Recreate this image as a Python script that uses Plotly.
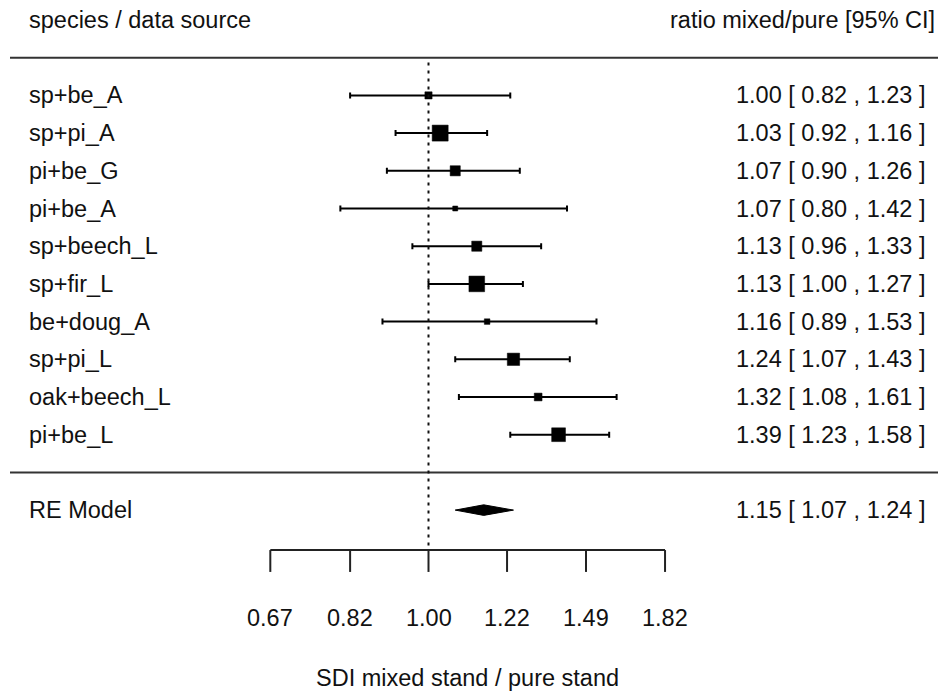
import numpy as np
import plotly.graph_objects as go

# ---- data ----
labels = ["sp+be_A", "sp+pi_A", "pi+be_G", "pi+be_A", "sp+beech_L",
          "sp+fir_L", "be+doug_A", "sp+pi_L", "oak+beech_L", "pi+be_L"]
estimate = [1.00, 1.03, 1.07, 1.07, 1.13, 1.13, 1.16, 1.24, 1.32, 1.39]
ci_lower = [0.82, 0.92, 0.90, 0.80, 0.96, 1.00, 0.89, 1.07, 1.08, 1.23]
ci_upper = [1.23, 1.16, 1.26, 1.42, 1.33, 1.27, 1.53, 1.43, 1.61, 1.58]
weights = [8.5, 14.5, 10.5, 7.0, 10.5, 14.3, 7.4, 12.0, 8.9, 13.0]

re_label = "RE Model"
re_est, re_lo, re_hi = 1.15, 1.07, 1.24

tick_vals = [0.67, 0.82, 1.00, 1.22, 1.49, 1.82]
tick_text = ["0.67", "0.82", "1.00", "1.22", "1.49", "1.82"]

header_left = "species / data source"
header_right = "ratio mixed/pure [95% CI]"
x_title = "SDI mixed stand / pure stand"

# ---- layout constants ----
W, H = 938, 691
PX_PER_UNIT_X = 395.0
X0_PX = 428.5
PX_PER_ROW = 37.7
Y0_PX = 472.4
FONT = "Liberation Sans, Arial, sans-serif"
FS = 23.5
TXT = "#111111"

xr = [-X0_PX / PX_PER_UNIT_X, (W - X0_PX) / PX_PER_UNIT_X]
yr = [(Y0_PX - H) / PX_PER_ROW, Y0_PX / PX_PER_ROW]

k = len(labels)
rows = [k - i for i in range(k)]
lx = np.log(estimate)
llo = np.log(ci_lower)
lhi = np.log(ci_upper)

w = np.array(weights)
sizes = 5 + (w - w.min()) / (w.max() - w.min()) * 11

fig = go.Figure()

fig.add_trace(go.Scatter(
    x=lx, y=rows, mode="markers",
    marker=dict(symbol="square", size=sizes, color="#000000", opacity=1,
                line=dict(width=0.5, color="#000000")),
    error_x=dict(type="data", symmetric=False, array=lhi - lx, arrayminus=lx - llo,
                 color="#000000", thickness=2, width=3),
    showlegend=False, hoverinfo="skip"))

# RE diamond
h = 0.14
dx = [np.log(re_lo), np.log(re_est), np.log(re_hi), np.log(re_est), np.log(re_lo)]
dy = [-1, -1 + h, -1, -1 - h, -1]
fig.add_trace(go.Scatter(x=dx, y=dy, mode="lines", fill="toself",
                         fillcolor="black", line=dict(color="black", width=1),
                         showlegend=False, hoverinfo="skip"))

shapes = []
# horizontal separators
for yy in [k + 1, 0]:
    shapes.append(dict(type="line", xref="paper", yref="y", x0=10 / W, x1=1,
                       y0=yy, y1=yy, line=dict(color="#333", width=2)))
# reference dotted line
ax_y = -2.06
shapes.append(dict(type="line", xref="x", yref="y", x0=0, x1=0, y0=ax_y + 0.12, y1=k + 1,
                   line=dict(color="#111", width=2, dash="3px,5px")))
# axis
tv = np.log(tick_vals)
shapes.append(dict(type="line", xref="x", yref="y", x0=tv[0], x1=tv[-1], y0=ax_y, y1=ax_y,
                   line=dict(color="#222", width=2)))
for t in tv:
    shapes.append(dict(type="line", xref="x", yref="y", x0=t, x1=t, y0=ax_y, y1=ax_y - 0.58,
                       line=dict(color="#222", width=2)))

ann = []
def A(text, x, y, xanchor, xref="paper", size=FS):
    ann.append(dict(text=text, x=x, y=y, xref=xref, yref="y", xanchor=xanchor,
                    yanchor="middle", showarrow=False,
                    font=dict(family=FONT, size=size, color=TXT)))

A(header_left, 27 / W, k + 2, "left")
A(header_right, 937 / W, k + 2, "right")
for i in range(k):
    A(labels[i], 27 / W, rows[i], "left")
    A(f"{estimate[i]:.2f} [ {ci_lower[i]:.2f} , {ci_upper[i]:.2f} ]", 927 / W, rows[i], "right")
A(re_label, 27 / W, -1, "left")
A(f"{re_est:.2f} [ {re_lo:.2f} , {re_hi:.2f} ]", 927 / W, -1, "right")
for t, s in zip(tv, tick_text):
    A(s, t, -3.85, "center", xref="x")
A(x_title, (tv[0] + tv[-1]) / 2, -5.45, "center", xref="x")

fig.update_layout(
    width=W, height=H, margin=dict(l=0, r=0, t=0, b=0),
    paper_bgcolor="white", plot_bgcolor="white",
    xaxis=dict(range=xr, visible=False, fixedrange=True),
    yaxis=dict(range=yr, visible=False, fixedrange=True),
    shapes=shapes, annotations=ann, showlegend=False)

fig.write_html("out.html")
